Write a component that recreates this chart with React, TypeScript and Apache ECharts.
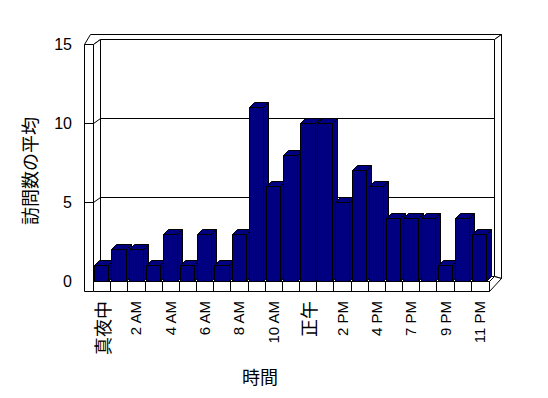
import React, { useEffect, useRef } from "react";
import * as echarts from "echarts";

const hours: string[] = [
  "真夜中", "1 AM", "2 AM", "3 AM", "4 AM", "5 AM", "6 AM", "7 AM", "8 AM", "9 AM", "10 AM", "11 AM",
  "正午", "1 PM", "2 PM", "3 PM", "4 PM", "5 PM", "7 PM", "8 PM", "9 PM", "10 PM", "11 PM",
];
const visits: number[] = [1, 2, 2, 1, 3, 1, 3, 1, 3, 11, 6, 8, 10, 10, 5, 7, 6, 4, 4, 4, 1, 4, 3];
const yTicks: number[] = [0, 5, 10, 15];
const yTitle = "訪問数の平均";
const xTitle = "時間";

const LATIN = "'Liberation Sans', Arial, sans-serif";
const CJK = "'Noto Sans CJK JP', sans-serif";

const px = (n: number) => Math.round(n) + 0.5;

export default function App() {
  const ref = useRef<HTMLDivElement>(null);
  useEffect(() => {
    if (!ref.current) return;
    const chart = echarts.init(ref.current, null, { renderer: "svg" });
    const line = { stroke: "#000", lineWidth: 1 };
    const white = { fill: "#fff", stroke: "#000", lineWidth: 1 };
    const navy = { fill: "#000080", stroke: "#000", lineWidth: 1 };
    const n = hours.length;

    const frameRender = (params: any, api: any) => {
      const bw = api.size([1, 0])[0];
      const L = api.coord([0, 0])[0] - bw / 2;
      const R = api.coord([n - 1, 0])[0] + bw / 2;
      const yT = api.coord([0, yTicks[yTicks.length - 1]])[1];
      const y0 = api.coord([0, 0])[1];
      const l = px(L), r = px(R), t = px(yT), b = px(y0);
      const children: any[] = [];
      children.push({ type: "rect", shape: { x: l + 7, y: t - 5, width: r + 6 - (l + 7), height: b - t }, style: { fill: "#fff" } });
      children.push({
        type: "polygon",
        shape: { points: [[l - 9, t], [l - 3, t - 10], [r + 13, t - 10], [r + 6, t - 5], [l + 7, t - 5], [l, t]] },
        style: white,
      });
      children.push({
        type: "polygon",
        shape: { points: [[r + 6, t - 5], [r + 13, t - 10], [r + 13, b - 3], [r + 6, b - 5]] },
        style: white,
      });
      children.push({
        type: "polygon",
        shape: { points: [[l, t], [l + 7, t - 5], [l + 7, b - 5], [l, b]] },
        style: white,
      });
      children.push({ type: "rect", shape: { x: l - 9, y: t, width: 9, height: b + 10 - t }, style: white });
      children.push({
        type: "polygon",
        shape: { points: [[l, b], [l + 7, b - 5], [r + 6, b - 5], [r + 1, b]] },
        style: white,
      });
      children.push({
        type: "polygon",
        shape: { points: [[r + 1, b], [r + 6, b - 5], [r + 13, b - 3], [r + 1, b + 10]] },
        style: white,
      });
      children.push({ type: "rect", shape: { x: l, y: b, width: r + 1 - l, height: 10 }, style: white });
      for (let i = 1; i < n; i++) {
        const x = px(api.coord([i, 0])[0] - bw / 2);
        children.push({ type: "line", shape: { x1: x, y1: b, x2: x, y2: b + 10 }, style: line });
      }
      yTicks.slice(1, -1).forEach((v) => {
        const c = px(api.coord([0, v])[1]);
        children.push({
          type: "polyline",
          shape: { points: [[l - 9, c], [l, c], [l + 7, c - 5], [r + 6, c - 5]] },
          style: { ...line, fill: "none" },
        });
      });
      return { type: "group", children };
    };

    const barRender = (params: any, api: any) => {
      const idx = api.value(0);
      const v = api.value(1);
      const bw = api.size([1, 0])[0];
      const [cx, yTopRaw] = api.coord([idx, v]);
      const yBotRaw = api.coord([idx, 0])[1];
      const x0 = px(cx - bw / 2 + 1.2);
      const x1 = px(cx - bw / 2 + 1.2 + bw * 0.83);
      const yTop = px(yTopRaw);
      const yBot = px(yBotRaw);
      const d = 5;
      return {
        type: "group",
        children: [
          { type: "polygon", shape: { points: [[x1, yTop], [x1 + d, yTop - d], [x1 + d, yBot - d], [x1, yBot]] }, style: navy },
          { type: "polygon", shape: { points: [[x0, yTop], [x0 + d, yTop - d], [x1 + d, yTop - d], [x1, yTop]] }, style: navy },
          { type: "rect", shape: { x: x0, y: yTop, width: x1 - x0, height: yBot - yTop }, style: navy },
        ],
      };
    };

    chart.setOption({
      animation: false,
      backgroundColor: "#fff",
      grid: { left: 93, right: 60, top: 44, bottom: 117 },
      xAxis: {
        type: "category",
        data: hours,
        axisLine: { show: false },
        axisTick: { show: false },
        splitLine: { show: false },
        axisLabel: {
          interval: 1,
          rotate: 90,
          margin: 20,
          color: "#000",
          formatter: (v: string) => (/[^\x00-\x7f]/.test(v) ? `{j|${v}}` : `{a|${v}}`),
          rich: {
            j: { fontSize: 18, fontFamily: CJK, color: "#000" },
            a: { fontSize: 15, fontFamily: LATIN, color: "#000" },
          },
        },
      },
      yAxis: {
        type: "value",
        min: 0,
        max: 15,
        interval: 5,
        axisLine: { show: false },
        axisTick: { show: false },
        splitLine: { show: false },
        axisLabel: { margin: 21, fontSize: 16, fontFamily: LATIN, color: "#000" },
      },
      graphic: [
        {
          type: "text",
          x: 29,
          y: 171,
          rotation: Math.PI / 2,
          style: { text: yTitle, fontSize: 18, fontFamily: CJK, fill: "#000", align: "center", verticalAlign: "middle" },
        },
        {
          type: "text",
          x: 260,
          y: 376,
          style: { text: xTitle, fontSize: 18, fontFamily: CJK, fill: "#000", align: "center", verticalAlign: "middle" },
        },
      ],
      series: [
        {
          type: "custom",
          renderItem: frameRender,
          data: [[0, 0]],
          clip: false,
          silent: true,
          z: 1,
        },
        {
          type: "custom",
          renderItem: barRender,
          data: visits.map((v, i) => [i, v]),
          encode: { x: 0, y: 1 },
          clip: false,
          z: 2,
        },
      ],
    });
    return () => chart.dispose();
  }, []);
  return <div ref={ref} style={{ position: "fixed", left: 0, top: 0, width: 548, height: 398 }} />;
}
